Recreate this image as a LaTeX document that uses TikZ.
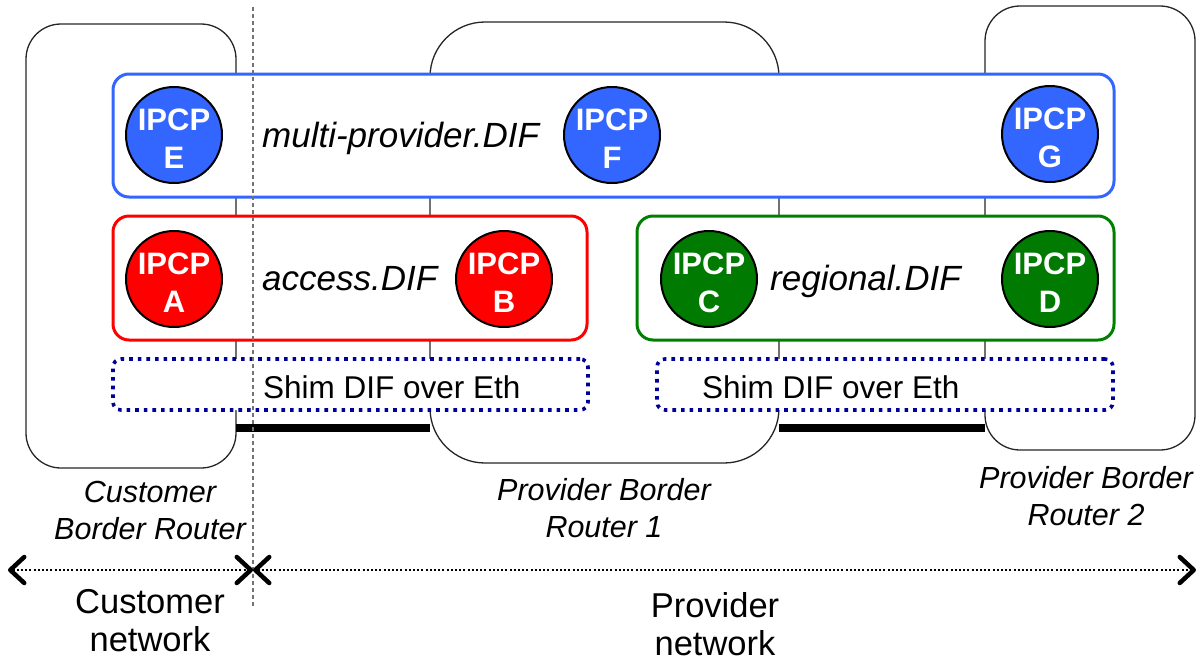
\documentclass[tikz,border=0pt]{standalone}
\usepackage{fontspec}
\setmainfont{Liberation Sans}
\usetikzlibrary{arrows.meta}
\definecolor{difblue}{HTML}{3366FF}
\definecolor{difred}{HTML}{FF0000}
\definecolor{difgreen}{HTML}{008000}
\definecolor{ipcpgreen}{HTML}{007A00}
\definecolor{shimblue}{HTML}{000099}

\begin{document}
\begin{tikzpicture}[x=1pt,y=-1pt,
  router/.style={draw=black!85, line width=1.3pt, rounded corners=#1,
    fill=white, inner sep=0pt, outer sep=0pt},
  difbox/.style={draw=#1, line width=3pt, rounded corners=16pt, fill=white,
    inner sep=0pt, outer sep=0pt},
  shimbox/.style={draw=shimblue, line width=3.6pt, dash pattern=on 3.6pt off 5pt,
    rounded corners=8pt, fill=white, inner sep=0pt, outer sep=0pt},
  ipcp/.style={circle, draw=black, line width=2pt, fill=#1,
    minimum size=96pt, inner sep=0pt},
  ipcptext/.style={text=white, font=\bfseries\fontsize{31}{38}\selectfont,
    align=center, inner sep=0pt, yshift=-4pt},
  diflabel/.style={font=\itshape\fontsize{35}{42}\selectfont, inner sep=0pt, anchor=base west},
  shimlabel/.style={font=\fontsize{31.5}{38}\selectfont, inner sep=0pt, anchor=base west},
  routerlabel/.style={font=\itshape\fontsize{30.5}{37}\selectfont, align=center,
    inner sep=0pt, anchor=north},
  netlabel/.style={font=\fontsize{34.5}{38}\selectfont, align=center,
    inner sep=0pt, anchor=north},
  link/.style={line width=8pt},
  divider/.style={draw=black!55, line width=1.2pt, dash pattern=on 4pt off 3pt},
  netarrow/.style={line width=2pt, dash pattern=on 2pt off 2.2pt,
    {Straight Barb[length=14pt,width=26pt,line width=4.5pt,round]}-{Straight Barb[length=14pt,width=26pt,line width=4.5pt,round]}}
]
\useasboundingbox (0,0) rectangle (1204,662);

% routers
\node[router=35pt, minimum width=210pt, minimum height=444pt] (cbr) at (131,246) {};
\node[router=55pt, minimum width=349pt, minimum height=441pt] (pbr1) at (604.5,242.5) {};
\node[router=35pt, minimum width=210pt, minimum height=444pt] (pbr2) at (1090,228) {};

% Ethernet links between routers
\draw[link] (cbr.east |- 0,428) -- (pbr1.west |- 0,428);
\draw[link] (pbr1.east |- 0,428) -- (pbr2.west |- 0,428);

% DIFs
\node[difbox=difblue, minimum width=1001pt, minimum height=123pt] (mpdif) at (613.5,135.5) {};
\node[difbox=difred, minimum width=474pt, minimum height=124pt] (accdif) at (350,278) {};
\node[difbox=difgreen, minimum width=477pt, minimum height=124pt] (regdif) at (875.5,278) {};
\node[shimbox, minimum width=475pt, minimum height=51pt] (shim1) at (350.5,384.5) {};
\node[shimbox, minimum width=456pt, minimum height=51pt] (shim2) at (885,384.5) {};

% IPC processes
\node[ipcp=difblue, label={[ipcptext]center:IPCP\\E}] (e) at (174,135) {};
\node[ipcp=difblue, label={[ipcptext]center:IPCP\\F}] (f) at (612,135) {};
\node[ipcp=difblue, label={[ipcptext]center:IPCP\\G}] (g) at (1050,134) {};
\node[ipcp=difred, label={[ipcptext]center:IPCP\\A}] (a) at (174,279) {};
\node[ipcp=difred, label={[ipcptext]center:IPCP\\B}] (b) at (504,279) {};
\node[ipcp=ipcpgreen, label={[ipcptext]center:IPCP\\C}] (c) at (709,279) {};
\node[ipcp=ipcpgreen, label={[ipcptext]center:IPCP\\D}] (d) at (1050,279) {};

% DIF names
\node[diflabel] (mplbl) at (262,147) {multi-provider.DIF};
\node[diflabel] (acclbl) at (262,290) {access.DIF};
\node[diflabel] (reglbl) at (770,290) {regional.DIF};
\node[shimlabel] (shim1lbl) at (263,398) {Shim DIF over Eth};
\node[shimlabel] (shim2lbl) at (702,398) {Shim DIF over Eth};

% router names
\node[routerlabel] (cbrlbl) at (150,481) {Customer\\Border Router};
\node[routerlabel] (pbr1lbl) at (604,478) {Provider Border\\Router 1};
\node[routerlabel] (pbr2lbl) at (1086,466) {Provider Border\\Router 2};

% boundary between customer and provider
\coordinate (divtop) at (253,7);
\coordinate (divbot) at (253,607);
\draw[divider] (divtop) -- (divbot);

% network extents
\coordinate (netL) at (8,570);
\coordinate (netM) at (253,570);
\coordinate (netR) at (1196,570);
\draw[netarrow] (netL) -- (netM);
\draw[netarrow] (netM) -- (netR);

\node[netlabel] (custnet) at (150,589) {Customer\\network};
\node[netlabel] (provnet) at (715,592) {Provider\\network};
\end{tikzpicture}
\end{document}
